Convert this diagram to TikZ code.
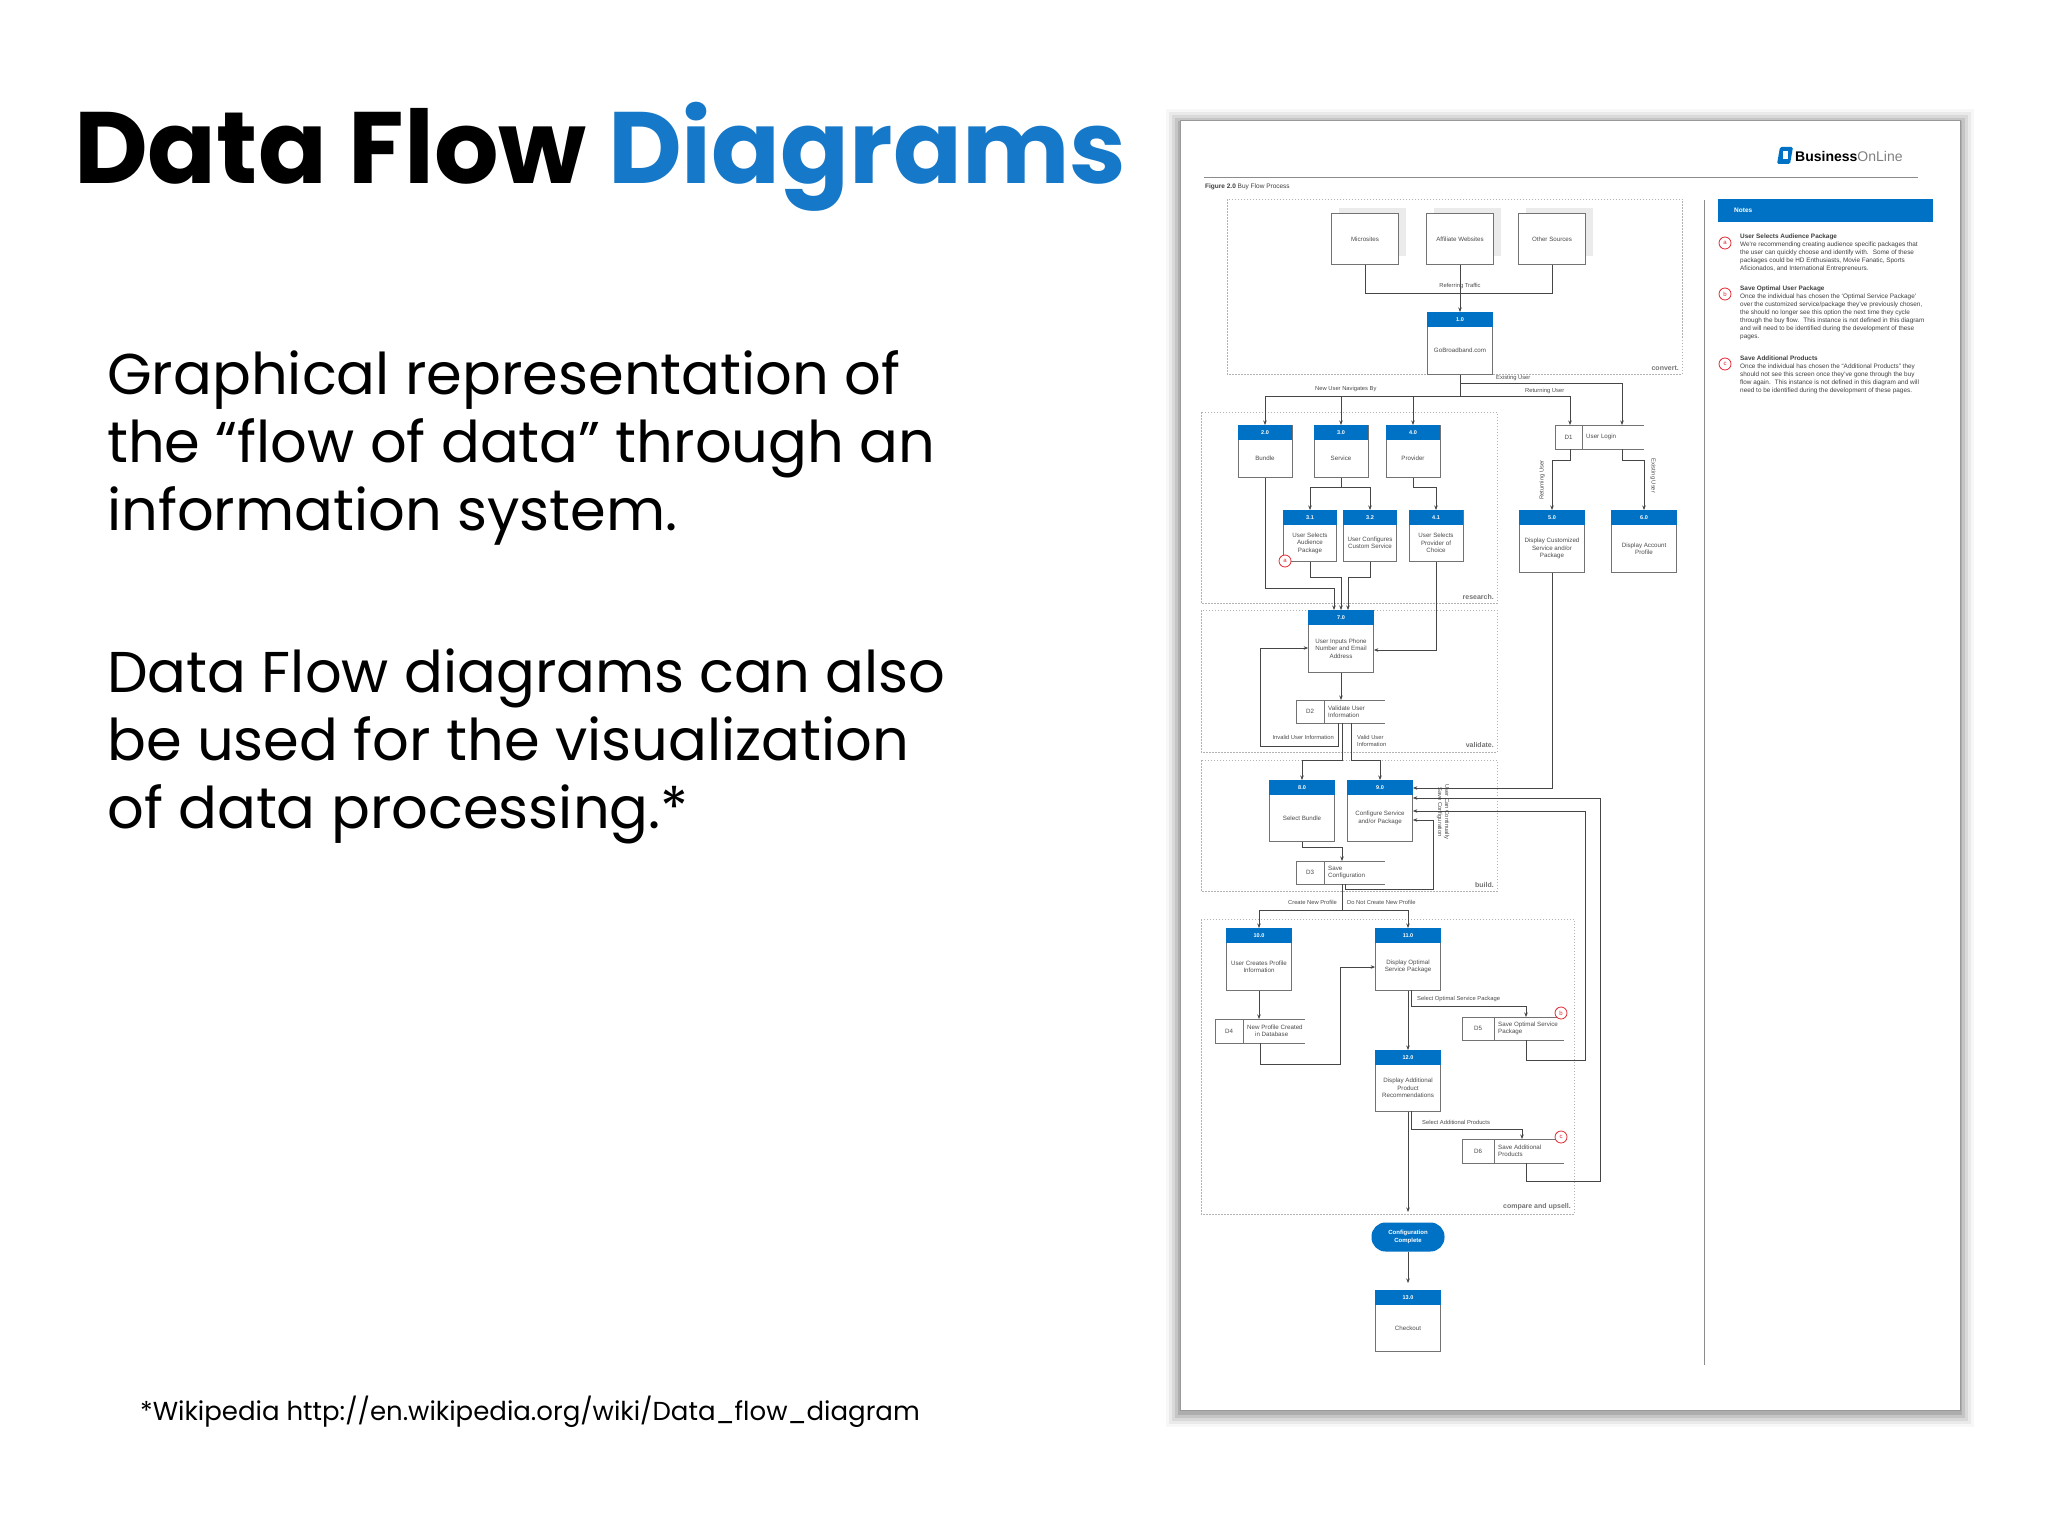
\documentclass[tikz,border=0pt]{standalone}
\usepackage{fontspec}
\setmainfont{Poppins}
\newfontfamily\dia{Liberation Sans}
\usetikzlibrary{arrows.meta}
\definecolor{dfblue}{RGB}{0,114,198}
\definecolor{ttlblue}{RGB}{22,120,200}
\definecolor{lnk}{RGB}{70,70,70}
\definecolor{redc}{RGB}{225,40,50}
\tikzset{
  ln/.style={draw=lnk, line width=0.7pt},
  arr/.style={ln, -{Stealth[length=4.5pt,width=3.5pt]}},
  procbox/.style={draw=black!55, line width=0.7pt, fill=white, inner sep=0pt, rectangle},
  btxt/.style={font=\dia\fontsize{6.2}{7.4}\selectfont, text=black!70, align=center, inner sep=0pt},
  htxt/.style={font=\dia\bfseries\fontsize{5.5}{6}\selectfont, text=white, inner sep=0pt},
  lbl/.style={font=\dia\fontsize{5.8}{7}\selectfont, text=black!70, inner sep=0pt, align=left},
  grp/.style={draw=black!30, line width=0.6pt, dash pattern=on 1.5pt off 1.5pt},
  grplbl/.style={font=\dia\bfseries\fontsize{7}{8}\selectfont, text=black!55, inner sep=0pt, anchor=south east},
  body/.style={font=\fontsize{57.5}{66}\selectfont, anchor=base west, inner sep=0pt},
  redcirc/.style={draw=redc, line width=0.8pt, circle, minimum size=12pt, inner sep=0pt, fill=white, font=\dia\fontsize{6}{6}\selectfont, text=redc},
  note/.style={font=\dia\fontsize{6.4}{8}\selectfont, text=black!75, anchor=north west, align=left, inner sep=0pt}
}
% name, cx, ytop, w, h, num, text
\newcommand\proc[7]{%
  \node[procbox, minimum width=#4, minimum height=#5, anchor=north] (#1) at (#2,#3) {};
  \fill[dfblue] (#1.north west) rectangle ([yshift=-15pt]#1.north east);
  \node[htxt] at ([yshift=-7.5pt]#1.north) {#6};
  \node[btxt] at ([yshift={-(15+#5)/2*1pt}]#1.north) {#7};
}
% name, x1,y1,x2,y2, xdiv, id, text
\newcommand\store[8]{%
  \node[inner sep=0pt, minimum width={(#4-#2)*1pt}, minimum height={(#5-#3)*1pt}, anchor=north west] (#1) at (#2,#3) {};
  \draw[draw=black!55, line width=0.7pt] (#4,#3) -- (#2,#3) -- (#2,#5) -- (#4,#5) (#6,#3) -- (#6,#5);
  \node[btxt] at ({(#2+#6)/2},{(#3+#5)/2}) {#7};
  \node[btxt, align=left, anchor=west] at ({#6+4},{(#3+#5)/2}) {#8};
}
\begin{document}
\begin{tikzpicture}[x=1pt,y=-1pt]
\useasboundingbox (0,0) rectangle (2048,1536);
\fill[white] (0,0) rectangle (2048,1536);
% ---------- left text ----------
\node[font=\fontsize{101.5}{100}\selectfont\bfseries, anchor=base west, inner sep=0pt] (title) at (74,183) {Data Flow \textcolor{ttlblue}{Diagrams}};
\node[body] (b1) at (107,394) {Graphical representation of};
\node[body] (b2) at (107,462) {the “flow of data” through an};
\node[body] (b3) at (107,530) {information system.};
\node[body] (b4) at (107,692) {Data Flow diagrams can also};
\node[body] (b5) at (107,760) {be used for the visualization};
\node[body] (b6) at (107,828) {of data processing.*};
\node[font=\fontsize{26}{30}\selectfont, anchor=base west, inner sep=0pt] (fn) at (140,1420) {*Wikipedia http://en.wikipedia.org/wiki/Data\_flow\_diagram};
% ---------- page ----------
\foreach \d/\o in {14/0.03,11/0.05,8/0.07,5/0.09,2/0.12}{
  \fill[black, opacity=\o] ({1180-\d},{120-\d+3}) rectangle ({1960+\d},{1410+\d+3});
}
\draw[fill=white, draw=black!40, line width=0.8pt] (1180,120) rectangle (1960,1410);
\draw[black!45, line width=0.7pt] (1204,177) -- (1918,177);
\fill[dfblue, rounded corners=1.5pt] (1780,147) -- (1793,147) -- (1790,164) -- (1777,164) -- cycle;
\fill[white] (1783,151) rectangle (1788,159);
\node[anchor=base west, inner sep=0pt, font=\dia\fontsize{14}{14}\selectfont] (logo) at (1795,161) {\textbf{Business}\textcolor{black!50}{OnLine}};
\node[anchor=base west, inner sep=0pt, font=\dia\fontsize{6.5}{7}\selectfont, text=black!75] (fig) at (1205,189) {\textbf{Figure 2.0} Buy Flow Process};
% notes
\draw[black!45, line width=0.7pt] (1704,200) -- (1704,1365);
\fill[dfblue] (1718,199) rectangle (1933,222);
\node[anchor=west, inner sep=0pt, font=\dia\bfseries\fontsize{6.5}{7}\selectfont, text=white] (notes) at (1734,210) {Notes};
\node[redcirc] (na) at (1725,243) {a};
\node[note] (nta) at (1740,234) {\textbf{User Selects Audience Package}\\We're recommending creating audience specific packages that\\the user can quickly choose and identify with.~ Some of these\\packages could be HD Enthusiasts, Movie Fanatic, Sports\\Aficionados, and International Entrepreneurs.};
\node[redcirc] (nb) at (1725,294) {b};
\node[note] (ntb) at (1740,286) {\textbf{Save Optimal User Package}\\Once the individual has chosen the ‘Optimal Service Package’\\over the customized service/package they’ve previously chosen,\\the should no longer see this option the next time they cycle\\through the buy flow.~ This instance is not defined in this diagram\\and will need to be identified during the development of these\\pages.};
\node[redcirc] (nc) at (1725,364) {c};
\node[note] (ntc) at (1740,356) {\textbf{Save Additional Products}\\Once the individual has chosen the “Additional Products” they\\should not see this screen once they’ve gone through the buy\\flow again.~ This instance is not defined in this diagram and will\\need to be identified during the development of these pages.};
% groups
\draw[grp] (1227,199) rectangle (1682,374); \node[grplbl] (gc) at (1679,371) {convert.};
\draw[grp] (1201,412) rectangle (1497,603); \node[grplbl] (gr) at (1494,600) {research.};
\draw[grp] (1201,610) rectangle (1497,752); \node[grplbl] (gv) at (1494,748) {validate.};
\draw[grp] (1201,760) rectangle (1497,891); \node[grplbl] (gb) at (1494,888) {build.};
\draw[grp] (1201,919) rectangle (1574,1214); \node[grplbl] (gu) at (1571,1210) {compare and upsell.};
% sources
\foreach \n/\x/\t in {ms/1365/Microsites, aw/1460/Affiliate Websites, os/1552/Other Sources}{
  \fill[black!8] (\x-26,208) rectangle (\x+41,256);
  \node[procbox, minimum width=67, minimum height=51, anchor=north, btxt, draw=black!55] (\n) at (\x,213) {\t};
}
\proc{p1}{1460}{312}{65}{62}{1.0}{GoBroadband.com}
\proc{p2}{1265}{425}{54}{52}{2.0}{Bundle}
\proc{p3}{1341}{425}{54}{52}{3.0}{Service}
\proc{p4}{1413}{425}{54}{52}{4.0}{Provider}
\proc{p31}{1310}{510}{53}{51}{3.1}{User Selects\\Audience\\Package}
\proc{p32}{1370}{510}{53}{51}{3.2}{User Configures\\Custom Service}
\proc{p41}{1436}{510}{54}{51}{4.1}{User Selects\\Provider of\\Choice}
\proc{p5}{1552}{510}{65}{62}{5.0}{Display Customized\\Service and/or\\Package}
\proc{p6}{1644}{510}{65}{62}{6.0}{Display Account\\Profile}
\proc{p7}{1341}{610}{65}{62}{7.0}{User Inputs Phone\\Number and Email\\Address}
\proc{p8}{1302}{780}{65}{61}{8.0}{Select Bundle}
\proc{p9}{1380}{780}{65}{61}{9.0}{Configure Service\\and/or Package}
\proc{p10}{1259}{928}{65}{62}{10.0}{User Creates Profile\\Information}
\proc{p11}{1408}{928}{65}{62}{11.0}{Display Optimal\\Service Package}
\proc{p12}{1408}{1050}{65}{61}{12.0}{Display Additional\\Product\\Recommendations}
\proc{p13}{1408}{1290}{65}{61}{13.0}{Checkout}
\node[fill=dfblue, rounded corners=14pt, minimum width=73, minimum height=29, inner sep=0pt, align=center, font=\dia\bfseries\fontsize{6}{7.2}\selectfont, text=white] (pill) at (1408,1237) {Configuration\\Complete};
\store{d1}{1555}{425}{1644}{449}{1582}{D1}{User Login}
\store{d2}{1296}{700}{1385}{723}{1324}{D2}{Validate User\\Information}
\store{d3}{1296}{861}{1385}{884}{1324}{D3}{Save\\Configuration}
\store{d4}{1215}{1019}{1305}{1043}{1243}{D4}{New Profile Created\\\hphantom{Ne}in Database}
\store{d5}{1462}{1017}{1564}{1040}{1494}{D5}{Save Optimal Service\\Package}
\store{d6}{1462}{1139}{1564}{1163}{1494}{D6}{Save Additional\\Products}
\node[redcirc] (ra) at (1285,561) {a};
\node[redcirc] (rb) at (1561,1013) {b};
\node[redcirc] (rc) at (1561,1137) {c};
% connectors
\draw[ln] (ms.south) -- (1365,293) -- (1552,293) -- (os.south);
\draw[arr] (aw.south) -- (p1.north);
\node[lbl] (lrt) at (1460,286) {Referring Traffic};
\draw[ln] (p1.south) -- (1460,396);
\draw[ln] (1265,396) -- (1570,396);
\draw[ln] (1460,383) -- (1622,383);
\draw[arr] (1265,396) -- (p2.north);
\draw[arr] (1341,396) -- (p3.north);
\draw[arr] (1413,396) -- (p4.north);
\draw[arr] (1570,396) -- (d1.north -| 1570,0);
\draw[arr] (1622,383) -- (d1.north -| 1622,0);
\node[lbl, anchor=west] (leu) at (1496,378) {Existing User};
\node[lbl, anchor=west] (lnu) at (1315,389) {New User Navigates By};
\node[lbl, anchor=west] (lru) at (1525,391) {Returning User};
\draw[arr] (d1.south -| 1570,0) -- (1570,460) -- (1552,460) -- (p5.north);
\draw[arr] (d1.south -| 1622,0) -- (1622,460) -- (1644,460) -- (p6.north);
\node[lbl, rotate=90] (lru2) at (1542,480) {Returning User};
\node[lbl, rotate=-90] (leu2) at (1653,476) {Existing User};
\draw[ln] (p3.south) -- (1341,487);
\draw[arr] (1341,487) -| (p31.north);
\draw[arr] (1341,487) -| (p32.north);
\draw[arr] (p4.south) -- (1413,487) -| (p41.north);
\draw[arr] (p2.south) |- (1334,588) -- (1334,610);
\draw[arr] (p31.south) |- (1341,577) -- (p7.north);
\draw[arr] (p32.south) |- (1348,577) -- (1348,610);
\draw[arr] (p41.south) |- (p7.east |- 0,650);
\draw[arr] (p7.south) -- (d2.north -| p7.south);
\draw[arr] (1338,723) -- (1338,746) -- (1260,746) -- (1260,648) -- (p7.west |- 0,648);
\node[lbl, anchor=east] (liu) at (1334,737) {Invalid User Information};
\node[lbl, anchor=west] (lvu) at (1357,741) {Valid User\\Information};
\draw[arr] (1342,723) -- (1342,760) -- (1302,760) -- (p8.north);
\draw[arr] (1351,723) -- (1351,760) -- (1380,760) -- (p9.north);
\draw[arr] (p8.south) -- (1302,847) -- (1342,847) -- (d3.north -| 1342,0);
\draw[arr] (1345,884) -- (1345,889) -- (1433,889) -- (1433,820) -- (p9.east |- 0,820);
\node[lbl, rotate=-90, align=center] (lsc) at (1443,812) {User Can Continually\\Save Configuration};
\draw[arr] (p5.south) -- (1552,788) -- (p9.east |- 0,788);
\draw[arr] (1526,1163) -- (1526,1181) -- (1600,1181) -- (1600,798) -- (p9.east |- 0,798);
\draw[arr] (1526,1040) -- (1526,1060) -- (1585,1060) -- (1585,811) -- (p9.east |- 0,811);
\draw[ln] (1342,884) -- (1342,910);
\draw[arr] (1342,910) -| (p10.north);
\draw[arr] (1342,910) -| (p11.north);
\node[lbl, anchor=east] (lcp) at (1337,902) {Create New Profile};
\node[lbl, anchor=west] (ldp) at (1347,902) {Do Not Create New Profile};
\draw[arr] (p10.south) -- (d4.north -| p10.south);
\draw[arr] (1260,1043) -- (1260,1064) -- (1340,1064) -- (1340,967) -- (p11.west |- 0,967);
\draw[arr] (p11.south) -- (p12.north);
\draw[arr] (1411,990) -- (1411,1006) -- (1526,1006) -- (d5.north -| 1526,0);
\node[lbl, anchor=west] (lso) at (1417,999) {Select Optimal Service Package};
\draw[arr] (1411,1111) -- (1411,1129) -- (1522,1129) -- (d6.north -| 1522,0);
\node[lbl, anchor=west] (lsa) at (1422,1122) {Select Additional Products};
\draw[arr] (p12.south) -- (1408,1212);
\draw[arr] (pill.south) -- (1408,1283);
\end{tikzpicture}
\end{document}
